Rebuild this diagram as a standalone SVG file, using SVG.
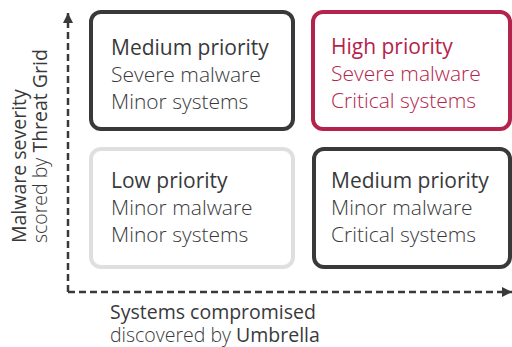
<svg xmlns="http://www.w3.org/2000/svg" width="512" height="347" viewBox="0 0 512 347">
<style>
.box{fill:#fff;stroke-width:4}
.dark{stroke:#39393b}
.red{stroke:#b4234b}
.light{stroke:#dfdfdf}
text{font-family:"Open Sans","Liberation Sans",sans-serif;font-size:21px}
.t{fill:#39393b}
.tr{fill:#b4234b}
.lt{font-weight:300}
.ax{font-size:19.5px;fill:#39393b}
.axis{fill:none;stroke:#39393b;stroke-width:2.5;stroke-dasharray:7 4}
</style>
<defs>
<marker id="ah" viewBox="0 0 10 10" refX="10" refY="5" markerWidth="10" markerHeight="10" markerUnits="userSpaceOnUse" orient="auto">
<path d="M0,0 L10,5 L0,10 Z" fill="#39393b"/>
</marker>
</defs>
<g id="connectors">
<path class="axis" d="M68,292 V13" marker-end="url(#ah)"/>
<path class="axis" d="M68,292 H512" marker-end="url(#ah)"/>
</g>
<g id="node-medium-top">
<rect class="box dark" x="91" y="12" width="202" height="117" rx="10"/>
<text class="t" x="111" y="55">Medium priority</text>
<text class="t lt" x="111" y="82">Severe malware</text>
<text class="t lt" x="111" y="109">Minor systems</text>
</g>
<g id="node-high">
<rect class="box red" x="313" y="12" width="197" height="117" rx="10"/>
<text class="tr" x="331" y="54">High priority</text>
<text class="tr lt" x="331" y="81">Severe malware</text>
<text class="tr lt" x="331" y="108">Critical systems</text>
</g>
<g id="node-low">
<rect class="box light" x="91" y="149" width="202" height="118" rx="10"/>
<text class="t" x="111" y="188">Low priority</text>
<text class="t lt" x="111" y="215">Minor malware</text>
<text class="t lt" x="111" y="242">Minor systems</text>
</g>
<g id="node-medium-bottom">
<rect class="box dark" x="314" y="149" width="196" height="118" rx="10"/>
<text class="t" x="331" y="188">Medium priority</text>
<text class="t lt" x="331" y="215">Minor malware</text>
<text class="t lt" x="331" y="242">Critical systems</text>
</g>
<g id="x-label">
<text class="ax" x="110" y="319">Systems compromised</text>
<text class="ax" x="110" y="342"><tspan class="lt">discovered by </tspan>Umbrella</text>
</g>
<g id="y-label">
<text class="ax" transform="translate(26,243) rotate(-90)" x="0" y="0">Malware severity</text>
<text class="ax" transform="translate(47,243) rotate(-90)" x="0" y="0"><tspan class="lt">scored by </tspan>Threat Grid</text>
</g>
</svg>
